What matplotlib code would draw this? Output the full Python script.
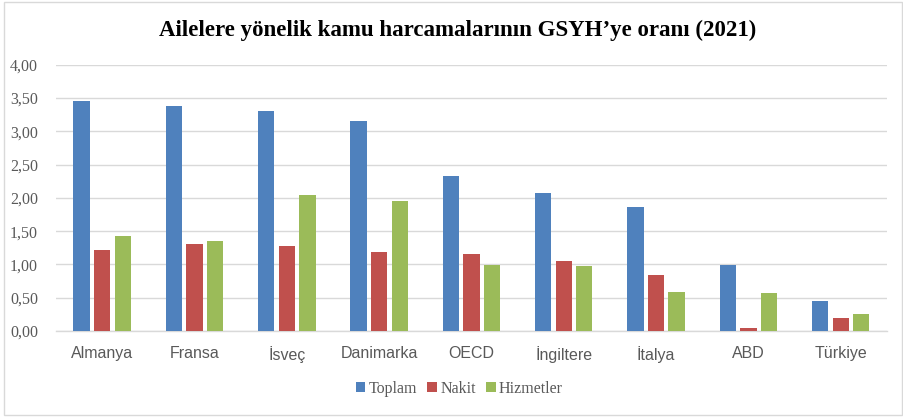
import matplotlib
matplotlib.use('Agg')
import matplotlib.pyplot as plt
from matplotlib.patches import Rectangle
import numpy as np

# values
countries = ['Almanya', 'Fransa', 'İsveç', 'Danimarka', 'OECD',
             'İngiltere', 'İtalya', 'ABD', 'Türkiye']
toplam = [3.45, 3.38, 3.31, 3.15, 2.33, 2.07, 1.86, 0.99, 0.45]
nakit = [1.21, 1.30, 1.27, 1.19, 1.15, 1.05, 0.84, 0.05, 0.20]
hizmetler = [1.43, 1.35, 2.05, 1.96, 0.99, 0.97, 0.59, 0.57, 0.26]
yticks = [0, 0.5, 1.0, 1.5, 2.0, 2.5, 3.0, 3.5, 4.0]

blue = '#4F81BD'
red = '#C0504D'
green = '#9BBB59'
grid_c = '#D9D9D9'
text_c = '#595959'

fig = plt.figure(figsize=(9.04, 4.17), dpi=100)
ax = fig.add_axes([0.062, 0.206, 0.919, 0.639])

x = np.arange(len(countries))
w = 0.177
step = 0.223
ax.bar(x - step, toplam, w, color=blue, label='Toplam', zorder=3)
ax.bar(x, nakit, w, color=red, label='Nakit', zorder=3)
ax.bar(x + step, hizmetler, w, color=green, label='Hizmetler', zorder=3)

ax.set_xlim(-0.5, len(countries) - 0.5)
ax.set_ylim(0, 4.0)
ax.set_yticks(yticks)
ax.set_yticklabels([f'{v:.2f}'.replace('.', ',') for v in yticks],
                   family='Liberation Serif', fontsize=11.5, color=text_c)
ax.set_xticks(x)
ax.set_xticklabels(countries, family='Liberation Sans', fontsize=11.5, color=text_c)
ax.tick_params(axis='both', length=0)
ax.tick_params(axis='y', pad=13)
ax.tick_params(axis='x', pad=11)

ax.grid(axis='y', color=grid_c, lw=1, zorder=0)
for s in ['top', 'right', 'left']:
    ax.spines[s].set_visible(False)
ax.spines['bottom'].set_color(grid_c)
ax.spines['bottom'].set_linewidth(1)

fig.text(0.506, 0.928, 'Ailelere yönelik kamu harcamalarının GSYH’ye oranı (2021)',
         ha='center', va='center', family='Liberation Serif',
         fontweight='bold', fontsize=16.5, color='black')

leg = fig.legend(loc='center', bbox_to_anchor=(0.508, 0.068), ncol=3, frameon=False,
                 prop={'family': 'Liberation Serif', 'size': 11.5},
                 handlelength=0.6, handleheight=0.6, handletextpad=0.2,
                 columnspacing=0.65)
for t in leg.get_texts():
    t.set_color(text_c)

# outer chart border
fig.patches.append(Rectangle((4 / 904, 2 / 417), 898 / 904, 413 / 417,
                             transform=fig.transFigure, fill=False,
                             edgecolor=grid_c, lw=1))

fig.savefig('out.png', dpi=100)
